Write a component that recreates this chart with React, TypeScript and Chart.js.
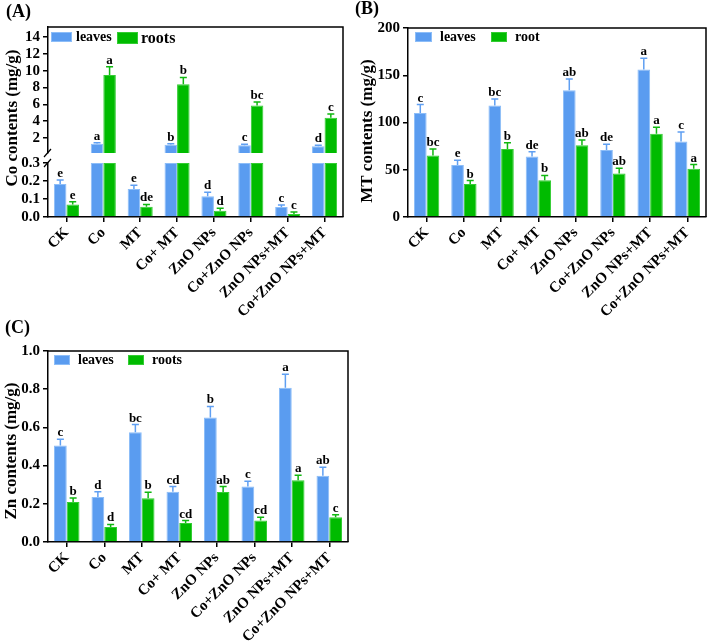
import React, { useEffect, useRef } from 'react';
import { Chart, registerables } from 'chart.js';

Chart.register(...registerables);

const FONT = '"Liberation Serif", "Times New Roman", Times, serif';

const categories = ['CK', 'Co', 'MT', 'Co+ MT', 'ZnO NPs', 'Co+ZnO NPs', 'ZnO NPs+MT', 'Co+ZnO NPs+MT'];

// (A) Co contents (mg/g) — broken axis
const coLeaves = [0.183, 1.32, 0.155, 1.2, 0.115, 1.15, 0.056, 1.02];
const coLeavesErr = [0.022, 0.13, 0.021, 0.13, 0.022, 0.12, 0.011, 0.12];
const coRoots = [0.07, 9.48, 0.057, 8.38, 0.035, 5.88, 0.017, 4.41];
const coRootsErr = [0.015, 0.99, 0.013, 0.83, 0.013, 0.4, 0.011, 0.44];
const coLeavesLetters = ['e', 'a', 'e', 'b', 'd', 'c', 'c', 'd'];
const coRootsLetters = ['e', 'a', 'de', 'b', 'd', 'bc', 'c', 'c'];
const coLowTicks = [0, 0.1, 0.2, 0.3];
const coHighTicks = [2, 4, 6, 8, 10, 12, 14];
const CO_LOW_MAX = 0.3;
const CO_HIGH_MIN = 0.22;
const CO_HIGH_MAX = 15.2;

// (B) MT contents (mg/g)
const mtLeaves = [110, 55, 118, 64, 134, 71, 156, 80];
const mtLeavesErr = [9, 5, 7, 5, 12, 6, 12, 10];
const mtRoots = [65, 35, 72, 39, 76, 46, 88, 51];
const mtRootsErr = [7, 3.5, 6.5, 5, 5.5, 5.5, 7, 4.5];
const mtLeavesLetters = ['c', 'e', 'bc', 'de', 'ab', 'de', 'a', 'c'];
const mtRootsLetters = ['bc', 'b', 'b', 'b', 'ab', 'ab', 'a', 'a'];
const mtTicks = [0, 50, 100, 150, 200];

// (C) Zn contents (mg/g)
const znLeaves = [0.505, 0.236, 0.575, 0.263, 0.652, 0.291, 0.808, 0.347];
const znLeavesErr = [0.033, 0.027, 0.04, 0.027, 0.058, 0.027, 0.07, 0.044];
const znRoots = [0.209, 0.079, 0.229, 0.1, 0.262, 0.112, 0.323, 0.129];
const znRootsErr = [0.021, 0.013, 0.031, 0.012, 0.028, 0.017, 0.026, 0.014];
const znLeavesLetters = ['c', 'd', 'bc', 'cd', 'b', 'c', 'a', 'ab'];
const znRootsLetters = ['b', 'd', 'b', 'cd', 'ab', 'cd', 'a', 'c'];
const znTicks = [0, 0.2, 0.4, 0.6, 0.8, 1.0];

const BLUE = '#5a9cf0';
const BLUE_EDGE = '#8cbdf8';
const GREEN = '#00bb00';
const GREEN_EDGE = '#33cc33';

const blueStyle = { backgroundColor: BLUE, borderColor: BLUE_EDGE, borderWidth: 1, errColor: '#5f9ff2' };
const greenStyle = { backgroundColor: GREEN, borderColor: GREEN_EDGE, borderWidth: 1, errColor: '#10b810' };

const decorPlugin = {
  id: 'decor',
  afterDatasetsDraw(chart: any) {
    const ctx = chart.ctx;
    ctx.save();
    chart.data.datasets.forEach((ds: any, di: number) => {
      const meta = chart.getDatasetMeta(di);
      const ys = chart.scales[meta.yAxisID];
      meta.data.forEach((el: any, i: number) => {
        const v = ds.data[i];
        const raw = ds.raw[i];
        if (v == null || raw > ys.max) return;
        const x = el.x;
        const yv = ys.getPixelForValue(raw);
        const ye = ys.getPixelForValue(raw + ds.err[i]);
        ctx.strokeStyle = ds.errColor;
        ctx.lineWidth = 1.5;
        ctx.beginPath();
        ctx.moveTo(x, yv);
        ctx.lineTo(x, ye);
        ctx.moveTo(x - 3.5, ye);
        ctx.lineTo(x + 3.5, ye);
        ctx.stroke();
        ctx.fillStyle = '#000';
        ctx.font = `bold 13px ${FONT}`;
        ctx.textAlign = 'center';
        ctx.textBaseline = 'alphabetic';
        ctx.fillText(ds.letters[i], x, ye - 3);
      });
    });
    ctx.restore();
  },
  afterDraw(chart: any, _args: any, opts: any) {
    const { ctx, chartArea: ca } = chart;
    ctx.save();
    ctx.strokeStyle = '#000';
    ctx.lineWidth = 1.5;
    ctx.beginPath();
    ctx.moveTo(ca.left, ca.top);
    ctx.lineTo(ca.right, ca.top);
    ctx.lineTo(ca.right, ca.bottom);
    ctx.stroke();

    if (opts.breakAxes) {
      const up = chart.scales.yUp;
      const low = chart.scales.yLow;
      const x = ca.left;
      ctx.lineWidth = 1.2;
      ctx.beginPath();
      ctx.moveTo(x - 4, up.bottom + 4);
      ctx.lineTo(x + 3, up.bottom - 4);
      ctx.moveTo(x - 4, low.top + 4);
      ctx.lineTo(x + 3, low.top - 4);
      ctx.stroke();
    }

    (opts.legend || []).forEach((it: any) => {
      const ds = chart.data.datasets[it.ds];
      ctx.fillStyle = ds.backgroundColor;
      ctx.fillRect(ca.left + it.bx, ca.top + it.by, it.bw, it.bh);
      ctx.strokeStyle = ds.borderColor;
      ctx.lineWidth = 1;
      ctx.strokeRect(ca.left + it.bx + 0.5, ca.top + it.by + 0.5, it.bw - 1, it.bh - 1);
      ctx.fillStyle = '#000';
      ctx.font = `bold ${it.size}px ${FONT}`;
      ctx.textAlign = 'left';
      ctx.textBaseline = 'alphabetic';
      ctx.fillText(ds.label, ca.left + it.tx, ca.top + it.ty);
    });

    if (opts.title) {
      ctx.translate(opts.title.x, opts.title.y);
      ctx.rotate(-Math.PI / 2);
      ctx.fillStyle = '#000';
      ctx.font = `bold 17px ${FONT}`;
      ctx.textAlign = 'center';
      ctx.textBaseline = 'middle';
      ctx.fillText(opts.title.text, 0, 0);
    }
    ctx.restore();
  },
};

const xScale = (height: number) => ({
  type: 'category',
  offset: true,
  grid: { display: true, drawOnChartArea: false, drawTicks: true, tickLength: 5, offset: false, color: '#000', lineWidth: 1.5 },
  border: { display: true, color: '#000', width: 1.5 },
  ticks: { autoSkip: false, maxRotation: 45, minRotation: 45, color: '#000', font: { family: FONT, size: 15, weight: 'bold' }, padding: 2 },
  afterFit: (s: any) => { s.height = height; },
});

const yScale = (min: number, max: number, tickVals: number[], dec: number, width: number, extra: any = {}) => ({
  type: 'linear',
  position: 'left',
  min,
  max,
  stacked: false,
  afterBuildTicks: (s: any) => { s.ticks = tickVals.map((v) => ({ value: v })); },
  ticks: { autoSkip: false, color: '#000', font: { family: FONT, size: 15, weight: 'bold' }, padding: 3, callback: (v: any) => Number(v).toFixed(dec) },
  grid: { display: true, drawOnChartArea: false, drawTicks: true, tickLength: 5, color: '#000', lineWidth: 1.5 },
  border: { display: true, color: '#000', width: 1.5 },
  afterFit: (s: any) => { s.width = width; },
  ...extra,
});

const baseOptions = (padding: any) => ({
  responsive: false,
  animation: false,
  events: [],
  layout: { padding },
  datasets: { bar: { categoryPercentage: 0.68, barPercentage: 1.0 } },
});

function makeA() {
  return {
    type: 'bar',
    data: {
      labels: categories,
      datasets: [
        { label: 'leaves', data: coLeaves.map((v) => (v > CO_LOW_MAX ? v : null)), raw: coLeaves, err: coLeavesErr, letters: coLeavesLetters, yAxisID: 'yUp', stack: 'leaves', base: CO_HIGH_MIN, ...blueStyle },
        { label: 'roots', data: coRoots.map((v) => (v > CO_LOW_MAX ? v : null)), raw: coRoots, err: coRootsErr, letters: coRootsLetters, yAxisID: 'yUp', stack: 'roots', base: CO_HIGH_MIN, ...greenStyle },
        { label: 'leaves', data: coLeaves.map((v) => Math.min(v, CO_LOW_MAX)), raw: coLeaves, err: coLeavesErr, letters: coLeavesLetters, yAxisID: 'yLow', stack: 'leaves', ...blueStyle },
        { label: 'roots', data: coRoots.map((v) => Math.min(v, CO_LOW_MAX)), raw: coRoots, err: coRootsErr, letters: coRootsLetters, yAxisID: 'yLow', stack: 'roots', ...greenStyle },
      ],
    },
    options: {
      ...baseOptions({ top: 27, right: 12, left: 0, bottom: 0 }),
      scales: {
        x: xScale(103),
        yUp: yScale(CO_HIGH_MIN, CO_HIGH_MAX, coHighTicks, 0, 48, { stack: 'A', stackWeight: 126, weight: 2 }),
        yGap: {
          type: 'linear', position: 'left', stack: 'A', stackWeight: 10, weight: 1, display: true,
          ticks: { display: false }, grid: { display: false }, border: { display: false },
          afterFit: (s: any) => { s.width = 48; },
        },
        yLow: yScale(0, CO_LOW_MAX, coLowTicks, 1, 48, { stack: 'A', stackWeight: 54, weight: 0 }),
      },
      plugins: {
        legend: { display: false },
        tooltip: { enabled: false },
        decor: {
          breakAxes: true,
          title: { text: 'Co contents (mg/g)', x: 13, y: 118 },
          legend: [
            { ds: 0, bx: 3, by: 5, bw: 21, bh: 10, tx: 28, ty: 14, size: 14 },
            { ds: 1, bx: 69, by: 5, bw: 21, bh: 12, tx: 93, ty: 16, size: 16 },
          ],
        },
      },
    },
    plugins: [decorPlugin],
  };
}

function makeSimple(leaves: number[], leavesErr: number[], leavesLetters: string[], roots: number[], rootsErr: number[], rootsLetters: string[], rootsLabel: string,
  min: number, max: number, ticks: number[], dec: number, yWidth: number, padding: any, xHeight: number, title: any, legend: any[]) {
  return {
    type: 'bar',
    data: {
      labels: categories,
      datasets: [
        { label: 'leaves', data: leaves, raw: leaves, err: leavesErr, letters: leavesLetters, yAxisID: 'y', ...blueStyle },
        { label: rootsLabel, data: roots, raw: roots, err: rootsErr, letters: rootsLetters, yAxisID: 'y', ...greenStyle },
      ],
    },
    options: {
      ...baseOptions(padding),
      scales: {
        x: xScale(xHeight),
        y: yScale(min, max, ticks, dec, yWidth),
      },
      plugins: {
        legend: { display: false },
        tooltip: { enabled: false },
        decor: { title, legend },
      },
    },
    plugins: [decorPlugin],
  };
}

const makeB = () => makeSimple(mtLeaves, mtLeavesErr, mtLeavesLetters, mtRoots, mtRootsErr, mtRootsLetters, 'root',
  0, 200, mtTicks, 0, 53, { top: 28, right: 4, left: 0, bottom: 0 }, 103,
  { text: 'MT contents (mg/g)', x: 13, y: 131 },
  [
    { ds: 0, bx: 7, by: 4, bw: 17, bh: 10, tx: 32, ty: 13, size: 14 },
    { ds: 1, bx: 83, by: 4, bw: 16, bh: 10, tx: 107, ty: 13, size: 14 },
  ]);

const makeC = () => makeSimple(znLeaves, znLeavesErr, znLeavesLetters, znRoots, znRootsErr, znRootsLetters, 'roots',
  0, 1.0, znTicks, 1, 48, { top: 31, right: 7, left: 0, bottom: 0 }, 99,
  { text: 'Zn contents (mg/g)', x: 12, y: 131 },
  [
    { ds: 0, bx: 6, by: 4, bw: 16, bh: 10, tx: 30, ty: 13, size: 14 },
    { ds: 1, bx: 80, by: 4, bw: 16, bh: 10, tx: 104, ty: 13, size: 14 },
  ]);

function Panel({ make, left, top, width, height }: { make: () => any; left: number; top: number; width: number; height: number }) {
  const ref = useRef<HTMLCanvasElement>(null);
  useEffect(() => {
    const chart = new Chart(ref.current as HTMLCanvasElement, make());
    return () => chart.destroy();
  }, []);
  return (
    <canvas
      ref={ref}
      width={width}
      height={height}
      style={{ position: 'absolute', left, top, width, height }}
    />
  );
}

function PanelLabel({ text, left, top }: { text: string; left: number; top: number }) {
  return (
    <div style={{ position: 'absolute', left, top, font: `bold 18px ${FONT}`, lineHeight: '18px', color: '#000', whiteSpace: 'nowrap' }}>
      {text}
    </div>
  );
}

export default function App() {
  return (
    <div style={{ position: 'absolute', left: 0, top: 0, width: 710, height: 641, background: '#fff', overflow: 'hidden' }}>
      <Panel make={makeA} left={0} top={0} width={355} height={320} />
      <Panel make={makeB} left={355} top={0} width={355} height={320} />
      <Panel make={makeC} left={0} top={320} width={355} height={321} />
      <PanelLabel text="(A)" left={6} top={2} />
      <PanelLabel text="(B)" left={355} top={-1} />
      <PanelLabel text="(C)" left={5} top={318} />
    </div>
  );
}
